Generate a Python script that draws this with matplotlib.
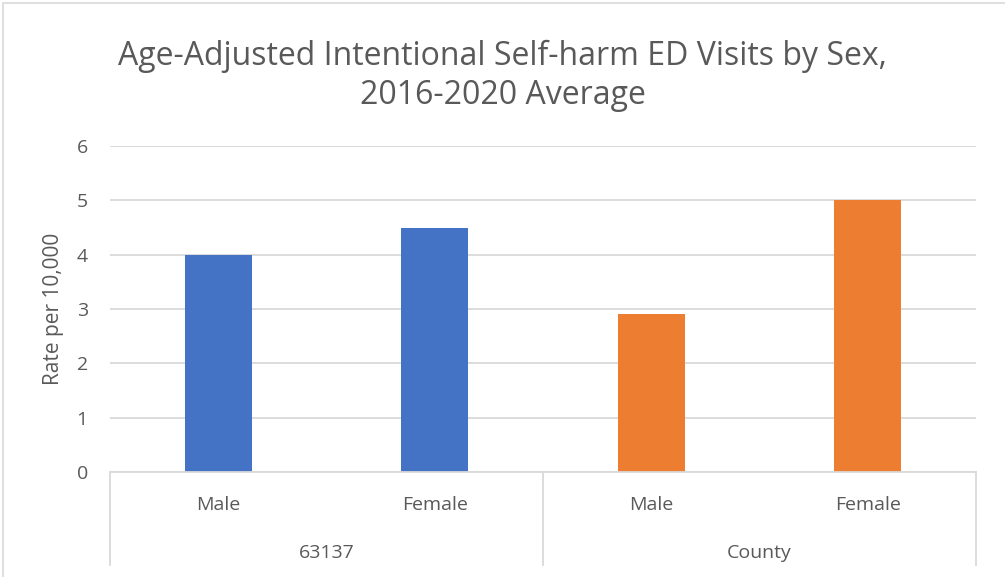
import matplotlib.pyplot as plt
from matplotlib.patches import Rectangle

groups = ["63137", "County"]
sexes = ["Male", "Female"]
rates_63137 = [4.0, 4.5]
rates_county = [2.91, 5.01]
colors = ["#4472C4", "#ED7D31"]

text_color = "#595959"
grid_color = "#D9D9D9"

plt.rcParams['font.family'] = ['Open Sans', 'DejaVu Sans']

fig = plt.figure(figsize=(10.05, 5.77), dpi=100)
W, H = 1005, 577
x0, x1, ytop, ybot = 110, 976, 146, 472
ax = fig.add_axes([x0 / W, (H - ybot) / H, (x1 - x0) / W, (ybot - ytop) / H])

# chart area border
fig.patches.append(Rectangle((3 / W, -0.1), 1.2, (H - 3) / H + 0.1, transform=fig.transFigure,
                             fill=False, edgecolor=grid_color, linewidth=1.2))

pos = 0
for g, vals, c in zip(groups, [rates_63137, rates_county], colors):
    xs = [pos, pos + 1]
    ax.bar(xs, vals, width=0.31, color=c, zorder=3)
    pos += 2

ax.set_xlim(-0.5, 3.5)
ax.set_ylim(0, 6)
ax.set_yticks(range(0, 7))
ax.grid(axis='y', color=grid_color, linewidth=1.3, zorder=0)
for s in ax.spines.values():
    s.set_visible(False)
ax.tick_params(axis='y', length=0, pad=16, labelsize=14, labelcolor=text_color)
ax.set_xticks([])
fig.text(53 / W, 1 - 309 / H, "Rate per 10,000", rotation=90, ha='center', va='center',
         fontsize=15, color=text_color)

# two-level category axis
trans = ax.get_xaxis_transform()
ax.plot([-0.5, 3.5], [0, 0], transform=trans, color=grid_color, lw=1.3, clip_on=False, zorder=4)
for xv in [-0.5, 1.5, 3.5]:
    ax.plot([xv, xv], [0, -0.285], transform=trans, color=grid_color, lw=1.3, clip_on=False)
for i in range(4):
    ax.text(i, -0.1166, sexes[i % 2], transform=trans, ha='center', va='baseline',
            fontsize=14, color=text_color)
for j, g in enumerate(groups):
    ax.text(2 * j + 0.5, -0.264, g, transform=trans, ha='center', va='baseline',
            fontsize=14, color=text_color)

fig.text(0.5, 1 - 65 / H, "Age-Adjusted Intentional Self-harm ED Visits by Sex,",
         ha='center', va='baseline', fontsize=23, color=text_color)
fig.text(0.5, 1 - 104 / H, "2016-2020 Average",
         ha='center', va='baseline', fontsize=23, color=text_color)

fig.savefig("out.png", dpi=100)
